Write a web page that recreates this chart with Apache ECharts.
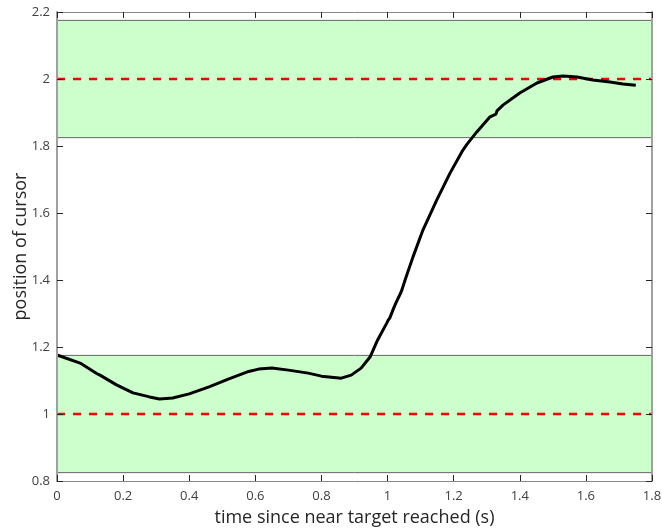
<!DOCTYPE html>
<html><head><meta charset="utf-8">
<script src="https://cdn.jsdelivr.net/npm/echarts@6/dist/echarts.min.js"></script>
<style>html,body{margin:0;padding:0;background:#fff}#c{width:662px;height:531px}</style>
</head><body><div id="c"></div>
<script>
const xTicks = [0,0.2,0.4,0.6,0.8,1.0,1.2,1.4,1.6,1.8];
const yTicks = [0.8,1.0,1.2,1.4,1.6,1.8,2.0,2.2];
const targets = [1, 2];
const bands = [[0.825, 1.175], [1.825, 2.175]];
const timeS = [0,0.07,0.12,0.13,0.18,0.23,0.28,0.31,0.35,0.40,0.46,0.52,0.58,0.61,0.65,0.70,0.76,0.80,0.86,0.89,0.92,0.947,0.97,0.998,1.002,1.007,1.016,1.025,1.040,1.044,1.053,1.077,1.107,1.149,1.189,1.228,1.240,1.270,1.310,1.328,1.331,1.349,1.400,1.452,1.500,1.531,1.573,1.621,1.673,1.712,1.751];
const position = [1.176,1.152,1.121,1.116,1.087,1.063,1.051,1.045,1.048,1.060,1.081,1.105,1.127,1.134,1.137,1.131,1.122,1.113,1.107,1.116,1.137,1.170,1.221,1.272,1.280,1.287,1.310,1.331,1.362,1.372,1.400,1.469,1.549,1.639,1.719,1.788,1.805,1.842,1.887,1.895,1.905,1.922,1.958,1.988,2.006,2.009,2.006,1.997,1.991,1.985,1.981];

const chart = echarts.init(document.getElementById('c'));
const txt = '#404040', dark = '#262626';
const fontF = '"Open Sans", "Liberation Sans", Arial, sans-serif';
function axisBase(lineColor, lineWidth, extra){
  return Object.assign({
    type:'value', splitLine:{show:false}, z:10,
    axisLine:{show:true, onZero:false, lineStyle:{color:lineColor, width:lineWidth}},
    axisTick:{show:true, inside:true, length:6, lineStyle:{color:dark, width:1}},
  }, extra);
}
chart.setOption({
  animation:false,
  grid:{left:57, right:10, top:12, bottom:50, containLabel:false, outerBoundsMode:'none'},
  xAxis:[
    axisBase('#888', 1, {min:0, max:1.8, interval:0.2, position:'bottom',
      axisLabel:{color:txt, fontSize:13, fontFamily:fontF, margin:9, formatter:v=>String(+v.toFixed(1))},
      name:'time since near target reached (s)', nameLocation:'middle', nameGap:28,
      nameTextStyle:{color:dark, fontSize:18, fontFamily:fontF}}),
    axisBase('#888', 1, {min:0, max:1.8, interval:0.2, position:'top', axisLabel:{show:false}})
  ],
  yAxis:[
    axisBase('#a0a0a0', 2, {min:0.8, max:2.2, interval:0.2, position:'left',
      axisLabel:{color:txt, fontSize:13, fontFamily:fontF, margin:7, formatter:v=>String(+v.toFixed(1))},
      name:'position of cursor', nameLocation:'middle', nameGap:27, nameMoveOverlap:false,
      nameTextStyle:{color:dark, fontSize:18, fontFamily:fontF}}),
    axisBase('#a0a0a0', 2, {min:0.8, max:2.2, interval:0.2, position:'right', axisLabel:{show:false}})
  ],
  series:[
    {type:'line', data:[], silent:true,
     markArea:{silent:true, itemStyle:{color:'#ccffcc', borderColor:'#666', borderWidth:1},
       data: bands.map(b=>[{xAxis:0, yAxis:b[0]},{xAxis:1.8, yAxis:b[1]}])}},
    ...targets.map(t=>({type:'line', symbol:'none', silent:true,
      data:[[0,t],[1.8,t]], lineStyle:{color:'#ff0000', width:2.5, type:[8,8]}})),
    {type:'line', symbol:'none', smooth:false,
     data: timeS.map((t,i)=>[t, position[i]]),
     lineStyle:{color:'#000', width:3}}
  ]
});
</script></body></html>
